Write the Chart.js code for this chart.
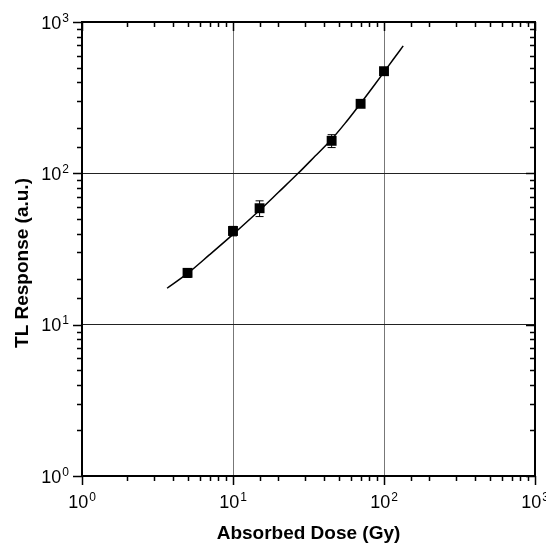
<!DOCTYPE html>
<html>
<head>
<meta charset="utf-8">
<script src="https://cdn.jsdelivr.net/npm/chart.js@4/dist/chart.umd.min.js"></script>
<style>
    body { margin: 0; background: #fff; }
    #wrap { width: 546px; height: 545px; }
</style>
</head>
<body>
<div id="wrap"><canvas id="tlChart"></canvas></div>
<script>
// measured points
const doseGy = [5, 10, 15, 45, 70, 100];
const tlResponse = [22, 41.6, 58.8, 164, 288, 473];
const tlError = [1.5, 3, 7, 16, 12, 20];

// fitted curve
const fitDose = [3.66, 5, 7, 10, 15, 20, 27, 35, 45, 55, 70, 85, 100, 115, 134];
const fitResponse = [17.4, 21.8, 29, 39.5, 57, 75, 100, 130, 168, 213, 290, 375, 467, 565, 695];

// axis tick labels (powers of ten)
const xDecades = [0, 1, 2, 3];
const yDecades = [0, 1, 2, 3];

const labelFont = '18px "Liberation Sans", Arial, sans-serif';
const supFont = '12px "Liberation Sans", Arial, sans-serif';
const titleFont = 'bold 19px "Liberation Sans", Arial, sans-serif';

function isDecade(v) {
    const e = Math.log10(v);
    return Math.abs(e - Math.round(e)) < 1e-9;
}

function drawPower(ctx, exp, x, y, align) {
    ctx.font = labelFont;
    const wBase = ctx.measureText('10').width;
    ctx.font = supFont;
    const wExp = ctx.measureText(String(exp)).width;
    const total = wBase + wExp + 1;
    let start = x;
    if (align === 'center') start = x - total / 2;
    if (align === 'right') start = x - total;
    ctx.textAlign = 'left';
    ctx.textBaseline = 'alphabetic';
    ctx.font = labelFont;
    ctx.fillText('10', start, y);
    ctx.font = supFont;
    ctx.fillText(String(exp), start + wBase + 1, y - 7);
}

const errorBars = {
    id: 'errorBars',
    beforeDatasetsDraw(chart) {
        const { ctx, scales: { x, y } } = chart;
        ctx.save();
        ctx.strokeStyle = '#000';
        ctx.lineWidth = 1;
        doseGy.forEach((d, i) => {
            const px = x.getPixelForValue(d);
            const top = y.getPixelForValue(tlResponse[i] + tlError[i]);
            const bot = y.getPixelForValue(tlResponse[i] - tlError[i]);
            ctx.beginPath();
            ctx.moveTo(px, top); ctx.lineTo(px, bot);
            ctx.moveTo(px - 4, top); ctx.lineTo(px + 4, top);
            ctx.moveTo(px - 4, bot); ctx.lineTo(px + 4, bot);
            ctx.stroke();
        });
        ctx.restore();
    }
};

const frameAndLabels = {
    id: 'frameAndLabels',
    afterDraw(chart) {
        const { ctx, chartArea: a, scales: { x, y } } = chart;
        ctx.save();
        ctx.strokeStyle = '#000';
        ctx.lineWidth = 2;
        ctx.strokeRect(a.left, a.top, a.right - a.left, a.bottom - a.top);

        // ticks: outward on left/bottom, inward on top/right
        ctx.lineWidth = 1.5;
        x.ticks.forEach(t => {
            const px = Math.round(x.getPixelForValue(t.value)) + 0.5;
            const len = isDecade(t.value) ? 9 : 5;
            ctx.beginPath();
            ctx.moveTo(px, a.bottom); ctx.lineTo(px, a.bottom + len);
            ctx.moveTo(px, a.top); ctx.lineTo(px, a.top + len);
            ctx.stroke();
        });
        y.ticks.forEach(t => {
            const py = Math.round(y.getPixelForValue(t.value)) + 0.5;
            const len = isDecade(t.value) ? 9 : 5;
            ctx.beginPath();
            ctx.moveTo(a.left, py); ctx.lineTo(a.left - len, py);
            ctx.moveTo(a.right, py); ctx.lineTo(a.right - len, py);
            ctx.stroke();
        });

        ctx.fillStyle = '#000';
        xDecades.forEach(e => {
            drawPower(ctx, e, x.getPixelForValue(Math.pow(10, e)), 508, 'center');
        });
        yDecades.forEach(e => {
            drawPower(ctx, e, a.left - 13, y.getPixelForValue(Math.pow(10, e)) + 6.5, 'right');
        });

        // axis titles
        ctx.font = titleFont;
        ctx.textAlign = 'center';
        ctx.textBaseline = 'alphabetic';
        ctx.fillText('Absorbed Dose (Gy)', (a.left + a.right) / 2, 539);
        ctx.translate(28, 263);
        ctx.rotate(-Math.PI / 2);
        ctx.fillText('TL Response (a.u.)', 0, 0);
        ctx.restore();
    }
};

function gridColor(c, col) {
    const v = c.tick ? c.tick.value : null;
    return v !== null && isDecade(v) && v > 1 && v < 1000 ? col : 'rgba(0,0,0,0)';
}

const ctx = document.getElementById('tlChart').getContext('2d');
const tlChart = new Chart(ctx, {
    type: 'scatter',
    data: {
        datasets: [{
            label: 'TL response',
            data: doseGy.map((d, i) => ({ x: d, y: tlResponse[i] })),
            pointStyle: 'rect',
            pointRadius: 7,
            backgroundColor: '#000',
            borderColor: '#000',
            borderWidth: 0
        }, {
            label: 'Fit',
            data: fitDose.map((d, i) => ({ x: d, y: fitResponse[i] })),
            showLine: true,
            pointRadius: 0,
            borderColor: '#000',
            borderWidth: 1.5,
            cubicInterpolationMode: 'monotone'
        }]
    },
    options: {
        responsive: true,
        maintainAspectRatio: false,
        animation: false,
        layout: { padding: { left: 82, right: 11, top: 22, bottom: 69 } },
        plugins: {
            legend: { display: false },
            tooltip: { enabled: false }
        },
        scales: {
            x: {
                type: 'logarithmic',
                min: 1,
                max: 1000,
                ticks: { display: false },
                border: { display: false },
                grid: { drawTicks: false, lineWidth: 1, color: c => gridColor(c, '#777') },
                afterFit: s => { s.height = 0; s.paddingLeft = 0; s.paddingRight = 0; }
            },
            y: {
                type: 'logarithmic',
                min: 1,
                max: 1000,
                ticks: { display: false },
                border: { display: false },
                grid: { drawTicks: false, lineWidth: 1, color: c => gridColor(c, '#222') },
                afterFit: s => { s.width = 0; s.paddingTop = 0; s.paddingBottom = 0; }
            }
        }
    },
    plugins: [errorBars, frameAndLabels]
});
</script>
</body>
</html>
